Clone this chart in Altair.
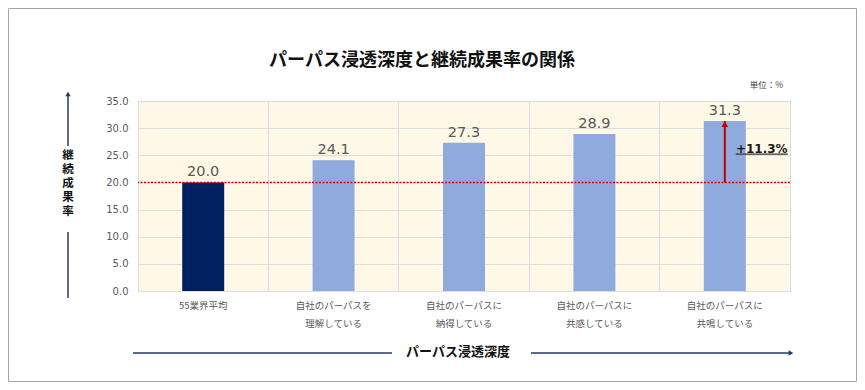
import altair as alt
import pandas as pd

# ---- data ----
categories = ["55業界平均", "自社のパーパスを 理解している", "自社のパーパスに 納得している",
              "自社のパーパスに 共感している", "自社のパーパスに 共鳴している"]
values = [20.0, 24.1, 27.3, 28.9, 31.3]
bar_colors = ["#002060", "#8FAADC", "#8FAADC", "#8FAADC", "#8FAADC"]
baseline_value = 20.0
diff_label = "+11.3%"
y_ticks = [0, 5, 10, 15, 20, 25, 30, 35]
title_text = "パーパス浸透深度と継続成果率の関係"
unit_text = "単位：%"
y_title_chars = ["継", "続", "成", "果", "率"]
x_title_text = "パーパス浸透深度"

W, H = 652, 190
PL, PT, PR, PB = 130, 93, 67, 91
JP = "Noto Sans CJK JP"
NUM = "DejaVu Sans"
NAVY = "#1F3A6E"

df = pd.DataFrame({
    "category": categories,
    "value": values,
    "color": bar_colors,
    "label": [f"{v:.1f}" for v in values],
})
one = pd.DataFrame({"a": [0]})
arrow_df = pd.DataFrame({"category": [categories[-1]], "value": [baseline_value], "value2": [values[-1]]})
tip_df = pd.DataFrame({"category": [categories[-1]], "value": [values[-1]]})
diff_df = pd.DataFrame({"category": [categories[-1]], "value": [26.2], "label": [diff_label]})
ul_df = pd.DataFrame({"category": [categories[-1]], "value": [25.2]})

yscale = alt.Scale(domain=[0, 35], nice=False)
xscale = alt.Scale(paddingInner=0, paddingOuter=0)

AX = alt.Axis(bandPosition=0, labelExpr="split(datum.label, ' ')",
              grid=True, gridColor="#DDDDDD", ticks=False, domain=False, labelAngle=0,
              labelFont=JP, labelFontSize=9.5, labelColor="#595959", labelPadding=9,
              labelLineHeight=18, labelBaseline="top", labelOverlap=False, labelBound=False,
              labelAlign="center", title=None)
AY = alt.Axis(values=y_ticks, format=".1f", labelFont=NUM, labelFontSize=10,
              labelColor="#595959", labelPadding=10, grid=True, gridColor="#DDDDDD",
              domain=False, ticks=False, labelOverlap=False, labelBound=False, title=None)


def X():
    return alt.X("category:N", sort=categories, scale=xscale, axis=AX, title=None)


def Y():
    return alt.Y("value:Q", scale=yscale, axis=AY, title=None)


bars = alt.Chart(df).mark_bar(size=42).encode(
    x=X(), y=Y(), color=alt.Color("color:N", scale=None))

bar_labels = alt.Chart(df).mark_text(font=NUM, fontSize=14.5, color="#595959", baseline="bottom", dy=-3).encode(
    x=X(), y=Y(), text="label:N")

base_rule = alt.Chart(one).mark_rule(color="#E00000", strokeWidth=1.5, strokeDash=[2, 1.5]).encode(
    y=alt.datum(baseline_value, scale=yscale, axis=AY))

red_arrow = alt.Chart(arrow_df).mark_rule(color="#C00000", strokeWidth=2).encode(
    x=X(), y=Y(), y2=alt.Y2("value2", title=None))
red_tip = alt.Chart(tip_df).mark_point(shape="triangle-up", filled=True, size=45, color="#C00000",
                                       opacity=1, yOffset=3).encode(x=X(), y=Y())

diff_text = alt.Chart(diff_df).mark_text(font=NUM, fontSize=12, fontWeight="bold", color="#1A1A1A",
                                         dx=37, baseline="middle").encode(x=X(), y=Y(), text="label:N")
diff_ul = alt.Chart(ul_df).mark_tick(orient="horizontal", size=52, thickness=1.2, color="#333333",
                                     xOffset=37, opacity=1).encode(x=X(), y=Y())

# ---- decorations ----
title = alt.Chart(one).mark_text(text=title_text, font=JP, fontSize=18, fontWeight="bold", color="#111111",
                                 baseline="middle", align="center").encode(x=alt.value(284), y=alt.value(-40))
unit = alt.Chart(one).mark_text(text=unit_text, font=JP, fontSize=8.5, color="#404040",
                                baseline="middle", align="right").encode(x=alt.value(645), y=alt.value(-16))
y_chars = [
    alt.Chart(one).mark_text(text=c, font=JP, fontSize=11.5, fontWeight="bold", color="#111111",
                             baseline="middle", align="center").encode(x=alt.value(-70), y=alt.value(55 + k * 14))
    for k, c in enumerate(y_title_chars)
]
y_line_top = alt.Chart(one).mark_rule(color=NAVY, strokeWidth=1.5).encode(
    x=alt.value(-70), y=alt.value(45), y2=alt.value(-7))
y_tip = alt.Chart(one).mark_point(shape="triangle-up", filled=True, size=28, color=NAVY, opacity=1).encode(
    x=alt.value(-70), y=alt.value(-7))
y_line_bot = alt.Chart(one).mark_rule(color=NAVY, strokeWidth=1.5).encode(
    x=alt.value(-70), y=alt.value(131), y2=alt.value(197))

x_line_left = alt.Chart(one).mark_rule(color=NAVY, strokeWidth=1.5).encode(
    x=alt.value(-5), x2=alt.value(254), y=alt.value(252))
x_title = alt.Chart(one).mark_text(text=x_title_text, font=JP, fontSize=13, fontWeight="bold", color="#111111",
                                   baseline="middle", align="center").encode(x=alt.value(320), y=alt.value(251))
x_line_right = alt.Chart(one).mark_rule(color=NAVY, strokeWidth=1.5).encode(
    x=alt.value(393), x2=alt.value(651), y=alt.value(252))
x_tip = alt.Chart(one).mark_point(shape="triangle-right", filled=True, size=28, color=NAVY, opacity=1).encode(
    x=alt.value(653), y=alt.value(252))

border = alt.Chart(one).mark_rect(fill=None, stroke="#A6A6A6", strokeWidth=1).encode(
    x=alt.value(-PL + 0.5), x2=alt.value(W + PR - 0.5), y=alt.value(-PT + 0.5), y2=alt.value(H + PB - 0.5))

chart = alt.layer(
    bars, bar_labels, base_rule, red_arrow, red_tip, diff_text, diff_ul,
    title, unit, *y_chars, y_line_top, y_tip, y_line_bot, x_line_left, x_title, x_line_right, x_tip, border,
).properties(
    width=W, height=H,
    autosize=alt.AutoSizeParams(type="none"),
    padding={"left": PL, "top": PT, "right": PR, "bottom": PB},
    background="white",
).configure_view(fill="#FFF8E6", stroke="#D9D9D9")

chart.save("out.html", embed_options={"renderer": "svg", "actions": False})
